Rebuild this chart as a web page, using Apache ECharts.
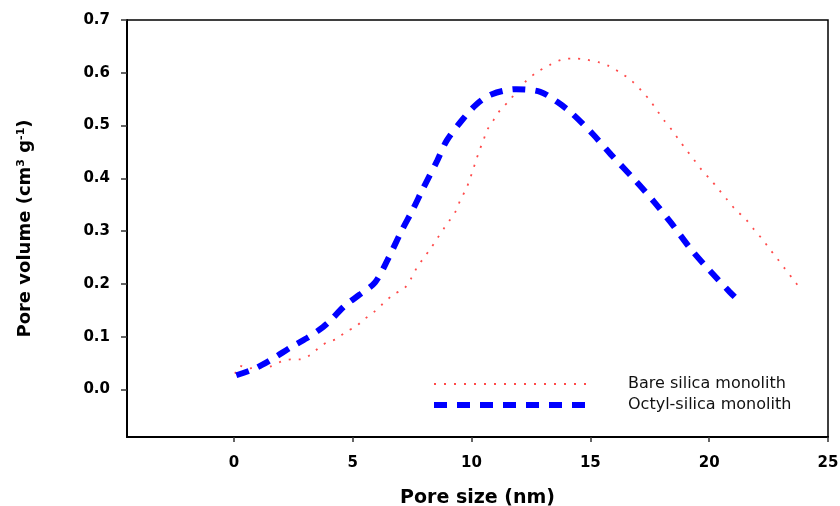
<!DOCTYPE html>
<html>
<head>
<meta charset="utf-8">
<script src="https://cdn.jsdelivr.net/npm/echarts@6/dist/echarts.min.js"></script>
<style>
  html, body { margin: 0; padding: 0; background: #fff; }
  #chart { width: 840px; height: 506px; }
</style>
</head>
<body>
<div id="chart"></div>
<script>
// tick labels
var xTicks = [0, 5, 10, 15, 20, 25];
var yTicks = [0, 0.1, 0.2, 0.3, 0.4, 0.5, 0.6, 0.7];

// Bare silica monolith
var bareX = [0.05, 0.25, 0.6, 1.1, 1.5, 2.0, 2.45, 2.8, 3.2, 3.55, 3.9, 4.33, 4.72, 5.1, 5.45, 5.87, 6.26, 6.71,
  7.16, 7.44, 7.7, 7.95, 8.26, 8.54, 8.82, 9.07, 9.35, 9.52, 9.77, 9.91, 10.05, 10.19, 10.33, 10.5, 10.65, 10.92,
  11.2, 11.6, 12.0, 12.33, 12.75, 13.3, 13.8, 14.3, 14.8, 15.35, 15.77, 16.23, 16.71, 17.17, 17.5, 17.8, 18.1,
  18.44, 18.74, 19.04, 19.35, 19.7, 20.05, 20.4, 20.75, 21.1, 21.53, 21.87, 22.23, 22.55, 22.88, 23.2, 23.53, 23.85];
var bareY = [0.030, 0.045, 0.040, 0.042, 0.043, 0.053, 0.057, 0.057, 0.065, 0.078, 0.089, 0.096, 0.110, 0.118,
  0.132, 0.146, 0.162, 0.180, 0.191, 0.209, 0.231, 0.247, 0.266, 0.285, 0.304, 0.320, 0.339, 0.358, 0.380, 0.396,
  0.415, 0.434, 0.453, 0.472, 0.491, 0.510, 0.529, 0.548, 0.570, 0.586, 0.601, 0.615, 0.625, 0.627, 0.625, 0.620,
  0.613, 0.601, 0.586, 0.565, 0.548, 0.529, 0.510, 0.491, 0.472, 0.454, 0.436, 0.415, 0.398, 0.379, 0.360, 0.341,
  0.323, 0.304, 0.285, 0.266, 0.247, 0.228, 0.209, 0.190];

// Octyl-silica monolith
var octylX = [0.1, 0.74, 1.2, 1.73, 2.4, 3.06, 3.5, 3.95, 4.7, 5.3, 5.94, 6.46, 7.06, 7.53, 7.95, 8.54, 8.96,
  9.63, 10.2, 10.83, 11.88, 12.89, 13.6, 14.2, 15.1, 15.87, 16.93, 17.69, 18.39, 19.28, 20.05, 20.86, 21.15];
var octylY = [0.027, 0.037, 0.047, 0.061, 0.080, 0.097, 0.110, 0.126, 0.160, 0.180, 0.203, 0.245, 0.301, 0.341,
  0.380, 0.432, 0.472, 0.512, 0.540, 0.559, 0.569, 0.564, 0.545, 0.524, 0.484, 0.445, 0.394, 0.355, 0.316, 0.263,
  0.224, 0.185, 0.172];

function pairs(xs, ys) {
  var out = [];
  for (var i = 0; i < xs.length; i++) out.push([xs[i], ys[i]]);
  return out;
}

var font = 'DejaVu Sans, Verdana, sans-serif';
var chart = echarts.init(document.getElementById('chart'), null, { renderer: 'canvas' });

var option = {
  animation: false,
  backgroundColor: '#fff',
  grid: {
    left: 127, top: 20, right: 12, bottom: 69,
    outerBoundsMode: 'none',
    containLabel: false,
    show: true, borderColor: '#000', borderWidth: 1.5
  },
  legend: {
    orient: 'vertical',
    left: 426, top: 370,
    itemWidth: 152, itemHeight: 10, itemGap: 3,
    itemStyle: { opacity: 0 },
    lineStyle: { width: 'inherit', type: 'inherit' },
    textStyle: { fontFamily: font, fontSize: 16, color: '#111', lineHeight: 18, padding: [0, 0, 0, 37] },
    data: ['Bare silica monolith', 'Octyl-silica monolith']
  },
  xAxis: {
    type: 'value',
    min: -4.5, max: 25,
    name: 'Pore size (nm)',
    nameLocation: 'middle',
    nameGap: 52,
    nameTextStyle: { fontFamily: font, fontSize: 19, fontWeight: 'bold', color: '#000' },
    axisLine: { show: true, onZero: false, lineStyle: { color: '#000', width: 2 } },
    axisTick: { show: true, length: 5, customValues: xTicks, lineStyle: { color: '#333', width: 1.5 } },
    axisLabel: { customValues: xTicks, margin: 19, fontFamily: font, fontSize: 15, fontWeight: 'bold', color: '#000' },
    splitLine: { show: false }
  },
  yAxis: {
    type: 'value',
    min: -0.09, max: 0.7,
    name: 'Pore volume (cm{sup|3} g{sup|-1})',
    nameLocation: 'middle',
    nameGap: 92,
    nameRotate: 90,
    nameTextStyle: {
      fontFamily: font, fontSize: 18, fontWeight: 'bold', color: '#000',
      rich: { sup: { fontFamily: font, fontSize: 11, fontWeight: 'bold', color: '#000', verticalAlign: 'top', padding: [0, 0, 8, 0] } }
    },
    axisLine: { show: true, onZero: false, lineStyle: { color: '#000', width: 2 } },
    axisTick: { show: true, length: 6, customValues: yTicks, lineStyle: { color: '#333', width: 1.5 } },
    axisLabel: {
      customValues: yTicks, margin: 17, fontFamily: font, fontSize: 15, fontWeight: 'bold', color: '#000',
      formatter: function (v) { return v.toFixed(1); }
    },
    splitLine: { show: false }
  },
  series: [
    {
      name: 'Bare silica monolith',
      type: 'line',
      data: pairs(bareX, bareY),
      showSymbol: false,
      symbol: 'none',
      smooth: 0.3,
      lineStyle: { color: '#ff2a2a', width: 1.8, type: [2, 8], opacity: 0.85 },
      itemStyle: { color: '#ff2a2a' },
      z: 2
    },
    {
      name: 'Octyl-silica monolith',
      type: 'line',
      data: pairs(octylX, octylY),
      showSymbol: false,
      symbol: 'none',
      smooth: 0.3,
      lineStyle: { color: '#0000ff', width: 6, type: [13, 10] },
      itemStyle: { color: '#0000ff' },
      z: 3
    }
  ]
};
chart.setOption(option);
</script>
</body>
</html>
